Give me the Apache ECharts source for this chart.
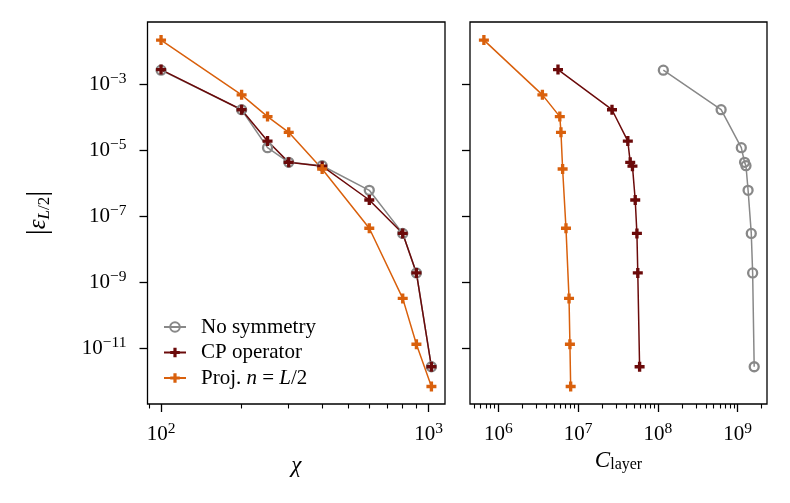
<!DOCTYPE html>
<html>
<head>
<meta charset="utf-8">
<script src="https://cdn.jsdelivr.net/npm/echarts@6/dist/echarts.min.js"></script>
<style>
  html, body { margin: 0; padding: 0; background: #fff; }
  #chart { width: 790px; height: 503px; }
</style>
</head>
<body>
<div id="chart"></div>
<script>
// bond dimension chi (left panel)
const chi = [100, 200, 250, 300, 400, 600, 800, 900, 1024];
// |eps_{L/2}| for each method
const errNoSym = [2.7e-3, 1.7e-4, 1.2e-5, 4.3e-6, 3.4e-6, 6.1e-7, 3.0e-8, 1.9e-9, 2.7e-12];
const errCP = [2.8e-3, 1.7e-4, 1.9e-5, 4.3e-6, 3.3e-6, 3.1e-7, 3.0e-8, 1.9e-9, 2.7e-12];
const errProj = [2.2e-2, 4.8e-4, 1.05e-4, 3.5e-5, 2.7e-6, 4.3e-8, 3.2e-10, 1.3e-11, 6.8e-13];
// C_layer (right panel)
const costNoSym = [1.17e8, 6.2e8, 1.11e9, 1.22e9, 1.27e9, 1.35e9, 1.48e9, 1.54e9, 1.61e9];
const costCP = [5.6e6, 2.66e7, 4.2e7, 4.5e7, 4.8e7, 5.2e7, 5.46e7, 5.6e7, 5.9e7];
const costProj = [6.6e5, 3.57e6, 5.9e6, 6.1e6, 6.4e6, 7.05e6, 7.7e6, 7.9e6, 8.07e6];

// tick values
const yTicks = [1e-3, 1e-5, 1e-7, 1e-9, 1e-11];
const chiTicks = [1e2, 1e3];
const chiMinor = [90, 200, 300, 400, 500, 600, 700, 800, 900];
const costTicks = [1e6, 1e7, 1e8, 1e9];
const costMinor = [5e5, 6e5, 7e5, 8e5, 9e5,
  2e6, 3e6, 4e6, 5e6, 6e6, 7e6, 8e6, 9e6,
  2e7, 3e7, 4e7, 5e7, 6e7, 7e7, 8e7, 9e7,
  2e8, 3e8, 4e8, 5e8, 6e8, 7e8, 8e8, 9e8, 2e9];

const FONT = 'Liberation Serif';
const GRAY = '#888888', DARK = '#6b0a0a', ORANGE = '#d9600c';
const PLUS = 'path://M3,0h3v3h3v3h-3v3h-3v-3h-3v-3h3z';

const pow10 = v => {
  const e = Math.round(Math.log10(v));
  return '{b|10}{s|' + (e < 0 ? '\u2212' + (-e) : e) + '}';
};
const tickRich = {
  b: { fontFamily: FONT, fontSize: 21, color: '#000', lineHeight: 26 },
  s: { fontFamily: FONT, fontSize: 15.5, color: '#000', verticalAlign: 'top', lineHeight: 8 }
};

const pairs = (xs, ys) => xs.map((x, i) => [x, ys[i]]);

const xMajor = (grid, min, max, ticks, name, gap, nameRich) => ({
  type: 'log', gridIndex: grid, min: min, max: max,
  axisLine: { show: false }, splitLine: { show: false },
  axisTick: { show: true, length: 8, lineStyle: { color: '#000', width: 1.3 }, customValues: ticks },
  axisLabel: { show: true, margin: 17, formatter: pow10, rich: tickRich, customValues: ticks },
  name: name, nameLocation: 'middle', nameGap: gap,
  nameTextStyle: { rich: nameRich }
});
const xMinor = (grid, min, max, ticks) => ({
  type: 'log', gridIndex: grid, min: min, max: max, position: 'bottom',
  axisLine: { show: false }, splitLine: { show: false },
  axisTick: { show: true, length: 4.5, lineStyle: { color: '#000', width: 1.1 }, customValues: ticks },
  axisLabel: { show: false }
});
const yAxisFor = (grid, labels) => ({
  type: 'log', gridIndex: grid, min: 2.0e-13, max: 7.8e-2,
  axisLine: { show: false }, splitLine: { show: false },
  axisTick: { show: true, length: 8, lineStyle: { color: '#000', width: 1.3 }, customValues: yTicks },
  axisLabel: { show: labels, margin: 21, formatter: pow10, rich: tickRich, customValues: yTicks }
});

const mkSeries = (name, xs, ys, grid, kind) => {
  const s = {
    name: name, type: 'line', data: pairs(xs, ys),
    xAxisIndex: grid * 2, yAxisIndex: grid,
    showAllSymbol: true, animation: false
  };
  if (kind === 'circle') {
    s.symbol = 'circle'; s.symbolSize = 9;
    s.lineStyle = { color: GRAY, width: 1.5 };
    s.itemStyle = { color: 'rgba(255,255,255,0)', borderColor: GRAY, borderWidth: 2.3 };
  } else {
    const c = kind === 'dark' ? DARK : ORANGE;
    s.symbol = PLUS; s.symbolSize = 10;
    s.lineStyle = { color: c, width: 1.5 };
    s.itemStyle = { color: c, borderWidth: 0 };
  }
  return s;
};

const chart = echarts.init(document.getElementById('chart'), null, { renderer: 'canvas' });
chart.setOption({
  backgroundColor: '#fff',
  animation: false,
  textStyle: { fontFamily: FONT },
  grid: [
    { left: 147.5, top: 22, width: 297.5, height: 382, show: true, borderColor: '#000', borderWidth: 1.3, outerBoundsMode: 'none' },
    { left: 470, top: 22, width: 297, height: 382, show: true, borderColor: '#000', borderWidth: 1.3, outerBoundsMode: 'none' }
  ],
  xAxis: [
    xMajor(0, 89, 1151, chiTicks, '{i|\u03c7}', 50, { i: { fontFamily: FONT, fontSize: 23, fontStyle: 'italic', color: '#000' } }),
    xMinor(0, 89, 1151, chiMinor),
    xMajor(1, 4.42e5, 2.33e9, costTicks, '{i|C}{sub|layer}', 42, {
      i: { fontFamily: FONT, fontSize: 23, fontStyle: 'italic', color: '#000' },
      sub: { fontFamily: FONT, fontSize: 16, color: '#000', verticalAlign: 'bottom' }
    }),
    xMinor(1, 4.42e5, 2.33e9, costMinor)
  ],
  yAxis: [
    Object.assign(yAxisFor(0, true), {
      name: '{v||}{e|\u03b5}{sub|L}{subr|/2}{v||}', nameLocation: 'middle', nameGap: 94,
      nameTextStyle: { rich: {
        v: { fontFamily: FONT, fontSize: 30, color: '#000' },
        e: { fontFamily: FONT, fontSize: 25, fontStyle: 'italic', color: '#000' },
        sub: { fontFamily: FONT, fontSize: 17, fontStyle: 'italic', color: '#000', verticalAlign: 'bottom' },
        subr: { fontFamily: FONT, fontSize: 17, color: '#000', verticalAlign: 'bottom' }
      } }
    }),
    yAxisFor(1, false)
  ],
  legend: {
    orient: 'vertical', left: 158, top: 311.5,
    itemWidth: 22, itemHeight: 12, itemGap: 4.5,
    data: ['No symmetry', 'CP operator', 'Proj. n = L/2'],
    formatter: n => n === 'Proj. n = L/2' ? 'Proj. {i|n} = {i|L}/2' : n,
    textStyle: {
      fontFamily: FONT, fontSize: 21, lineHeight: 21, color: '#000', padding: [0, 0, 0, 10],
      rich: { i: { fontFamily: FONT, fontSize: 21, lineHeight: 21, fontStyle: 'italic', color: '#000' } }
    }
  },
  series: [
    mkSeries('No symmetry', chi, errNoSym, 0, 'circle'),
    mkSeries('CP operator', chi, errCP, 0, 'dark'),
    mkSeries('Proj. n = L/2', chi, errProj, 0, 'orange'),
    mkSeries('No symmetry', costNoSym, errNoSym, 1, 'circle'),
    mkSeries('CP operator', costCP, errCP, 1, 'dark'),
    mkSeries('Proj. n = L/2', costProj, errProj, 1, 'orange')
  ]
});
</script>
</body>
</html>
